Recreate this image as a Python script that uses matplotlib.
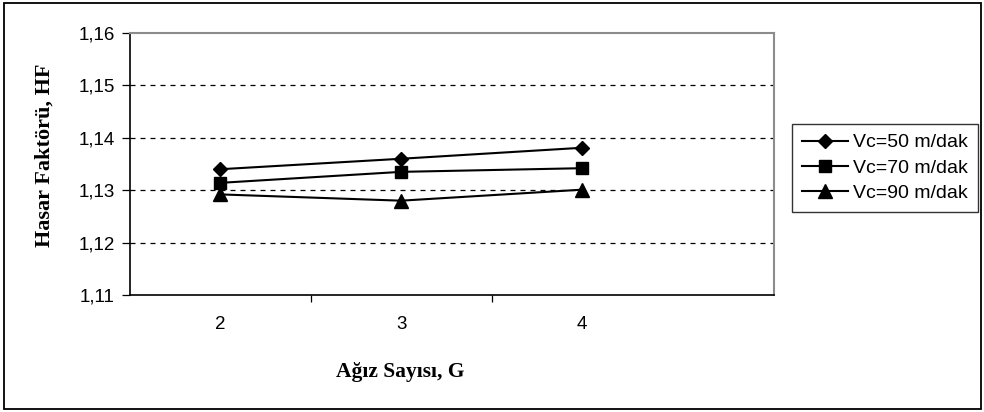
import matplotlib
matplotlib.use("Agg")
import matplotlib.pyplot as plt
from matplotlib.patches import Rectangle
from matplotlib.ticker import FixedLocator, NullFormatter

# Data
categories = [2, 3, 4]
hf_vc50 = [1.1340, 1.1360, 1.1381]
hf_vc70 = [1.1314, 1.1335, 1.1342]
hf_vc90 = [1.1292, 1.1280, 1.1301]
series_labels = ["Vc=50 m/dak", "Vc=70 m/dak", "Vc=90 m/dak"]
y_ticks = [1.11, 1.12, 1.13, 1.14, 1.15, 1.16]

sans = ["Liberation Sans", "DejaVu Sans"]
serif = ["Liberation Serif", "DejaVu Serif"]

fig = plt.figure(figsize=(9.84, 4.12), dpi=100)
ax = fig.add_axes([130 / 984, 1 - 295 / 412, (774 - 130) / 984, (295 - 33) / 412])

x = categories
ax.plot(x, hf_vc50, color="black", lw=1.5, marker="D", ms=7.5, label=series_labels[0])
ax.plot(x, hf_vc70, color="black", lw=1.5, marker="s", ms=8, label=series_labels[1])
ax.plot(x, hf_vc90, color="black", lw=1.5, marker="^", ms=9.5, label=series_labels[2])

ax.set_xlim(1.503, 5.06)
ax.set_ylim(1.11, 1.16)

# Dashed horizontal grid
for yv in y_ticks[1:-1]:
    ax.axhline(yv, color="black", lw=0.9, ls=(0, (4, 4)), zorder=0)

ax.set_yticks(y_ticks)
ax.set_yticklabels([f"{v:.2f}".replace(".", ",") for v in y_ticks], fontfamily=sans, fontsize=13.5)

ax.xaxis.set_major_locator(FixedLocator([1.5, 2.5, 3.5]))
ax.xaxis.set_major_formatter(NullFormatter())
ax.xaxis.set_minor_locator(FixedLocator(categories))
ax.set_xticklabels([str(c) for c in categories], minor=True, fontfamily=sans, fontsize=13.5)
ax.tick_params(axis="x", which="minor", length=0, pad=15)
ax.tick_params(axis="x", which="major", direction="out", length=5, width=0.9)
ax.tick_params(axis="y", direction="out", length=6, width=0.9, pad=5)

for side in ("top", "right"):
    ax.spines[side].set_color("#8c8c8c")
    ax.spines[side].set_linewidth(1.5)
for side in ("left", "bottom"):
    ax.spines[side].set_color("black")
    ax.spines[side].set_linewidth(1.2)

fig.text(45 / 984, 1 - 155 / 412, "Hasar Faktörü, HF", rotation=90, ha="center", va="center",
         fontfamily=serif, fontweight="bold", fontsize=16)
fig.text(400 / 984, 1 - 372 / 412, "Ağız Sayısı, G", ha="center", va="center",
         fontfamily=serif, fontweight="bold", fontsize=15.5)

leg = ax.legend(loc="upper left", bbox_to_anchor=(792 / 984, 1 - 124 / 412), bbox_transform=fig.transFigure,
                frameon=True, fancybox=False, prop={"family": sans, "size": 14},
                handlelength=2.4, handletextpad=0.25, borderpad=0.5, labelspacing=0.4,
                borderaxespad=0)
leg.get_frame().set_edgecolor("black")
leg.get_frame().set_linewidth(1.0)
leg.get_frame().set_boxstyle("square", pad=0)

# Outer chart border
fig.patches.append(Rectangle((4 / 984, 3 / 412), 977 / 984, 406 / 412, transform=fig.transFigure,
                             fill=False, edgecolor="black", lw=1.3))

fig.savefig("out.png", dpi=100)
